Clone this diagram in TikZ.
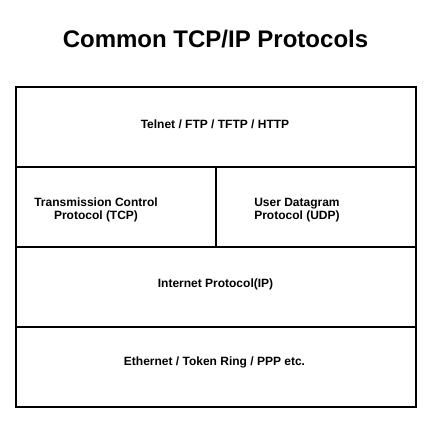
\documentclass[tikz,border=0pt]{standalone}
\usepackage{fontspec}
\setmainfont{Liberation Sans}
\begin{document}
\begin{tikzpicture}[x=0.75pt,y=-0.75pt,
  lbl/.style={font=\fontsize{9}{9.8}\selectfont\bfseries,align=center,inner sep=0pt},
  ttl/.style={font=\fontsize{18}{20}\selectfont\bfseries,inner sep=0pt}]
\useasboundingbox (0,0) rectangle (448,423);
\node[ttl] (title) at (215.5,39) {Common TCP/IP Protocols};
\draw[line width=1.5pt] (16,87) rectangle (416,407);
\coordinate (l1) at (16,167); \coordinate (r1) at (416,167);
\coordinate (l2) at (16,247); \coordinate (r2) at (416,247);
\coordinate (l3) at (16,327); \coordinate (r3) at (416,327);
\coordinate (vt) at (216,167); \coordinate (vb) at (216,247);
\draw[line width=1.5pt] (l1) -- (r1);
\draw[line width=1.5pt] (l2) -- (r2);
\draw[line width=1.5pt] (l3) -- (r3);
\draw[line width=1.5pt] (vt) -- (vb);
\node[lbl] (app) at (215,124.5) {Telnet / FTP / TFTP / HTTP};
\node[lbl] (tcp) at (96,210) {Transmission Control\\Protocol (TCP)};
\node[lbl,align=left] (udp) at (297,210) {User Datagram\\Protocol (UDP)};
\node[lbl] (ip) at (215.5,284) {Internet Protocol(IP)};
\node[lbl] (eth) at (214.5,362.5) {Ethernet / Token Ring / PPP etc.};
\end{tikzpicture}
\end{document}
